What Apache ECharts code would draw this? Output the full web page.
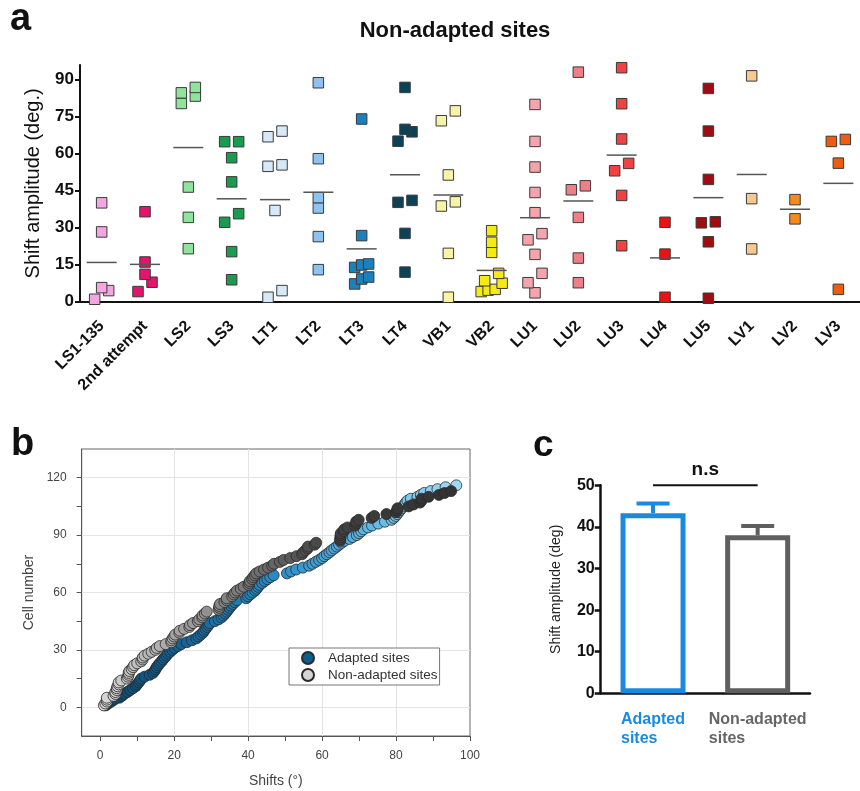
<!DOCTYPE html>
<html><head><meta charset="utf-8">
<script src="https://cdn.jsdelivr.net/npm/echarts@6/dist/echarts.min.js"></script>
<style>html,body{margin:0;padding:0;background:#fff}#c{width:860px;height:791px}</style>
</head><body><div id="c"></div>
<script>
// ---------- Panel a: non-adapted sites ----------
const categories = ['LS1-135','2nd attempt','LS2','LS3','LT1','LT2','LT3','LT4','VB1','VB2','LU1','LU2','LU3','LU4','LU5','LV1','LV2','LV3'];
const ls1_135 = [40.1, 28.3, 5.7, 4.5, 1.0];
const secondAttempt = [36.5, 16.1, 11.1, 7.9, 4.1];
const ls2 = [86.9, 84.7, 83.4, 80.4, 46.5, 34.2, 21.5];
const ls3 = [64.9, 64.9, 58.4, 48.6, 35.7, 32.2, 20.3, 8.9];
const lt1 = [69.2, 66.9, 55.5, 54.9, 37.0, 4.5, 1.8];
const lt2 = [88.8, 58.0, 42.2, 38.0, 26.4, 13.0];
const lt3 = [74.1, 26.8, 15.3, 14.9, 13.9, 10.0, 9.2, 7.2];
const lt4 = [86.9, 69.9, 68.9, 65.1, 41.1, 40.3, 27.7, 12.0];
const vb1 = [77.4, 73.4, 51.4, 40.5, 38.8, 19.6, 1.8];
const vb2 = [28.8, 24.1, 20.0, 11.5, 8.5, 7.5, 5.0, 4.7, 4.1];
const lu1 = [80.0, 65.0, 54.6, 44.3, 36.1, 27.6, 25.1, 19.2, 11.5, 7.7, 3.6];
const lu2 = [93.1, 47.0, 45.4, 34.2, 17.7, 7.7];
const lu3 = [94.9, 80.3, 66.0, 56.1, 53.1, 43.1, 22.7];
const lu4 = [32.2, 19.3, 1.8];
const lu5 = [86.5, 69.2, 49.6, 32.4, 32.0, 24.3, 1.4];
const lv1 = [91.6, 41.8, 21.4];
const lv2 = [41.4, 33.6];
const lv3 = [65.8, 65.0, 56.2, 5.0];
const siteValues = [ls1_135, secondAttempt, ls2, ls3, lt1, lt2, lt3, lt4, vb1, vb2, lu1, lu2, lu3, lu4, lu5, lv1, lv2, lv3];
const aTicks = [0, 15, 30, 45, 60, 75, 90];

// ---------- Panel b: cumulative shifts ----------
const adaptedShifts = [1.5,2.2,3.0,3.8,5.2,5.9,6.5,7.4,8.1,8.9,
 9.6,10.0,10.4,10.8,11.1,12.0,13.4,14.3,14.7,15.0,
 15.3,15.7,16.1,16.6,17.0,17.4,17.9,18.3,18.9,19.5,
 20.1,21.0,21.9,23.4,24.8,26.0,26.6,27.2,27.8,28.1,
 28.5,28.9,29.3,29.6,31.0,32.0,32.8,33.3,33.8,34.2,
 34.6,35.0,35.4,35.9,36.4,37.0,39.5,40.0,40.6,41.2,
 41.9,42.3,42.7,43.1,43.8,44.5,45.2,46.0,46.9,50.5,
 51.6,53.0,54.8,56.5,57.4,58.3,59.2,60.0,60.6,61.3,
 62.0,62.6,63.3,64.0,64.6,65.3,66.0,67.4,68.3,69.4,
 70.0,70.6,71.2,72.4,73.5,75.2,77.0,78.8,79.4,79.9,
 80.3,80.7,81.1,81.5,81.9,82.3,82.7,83.1,84.0,85.8,
 86.7,87.6,89.4,91.2,93.4,96.3];
const bXTicks = [0,10,20,30,40,50,60,70,80,90,100];
const bXLabels = [0,20,40,60,80,100];
const bXGrid = [20,40,60,80];
const bYTicks = [0,15,30,45,60,75,90,105,120];
const bYLabels = [0,30,60,90,120];
const seriesNames = ['Adapted sites','Non-adapted sites'];

// ---------- Panel c: mean shift amplitude ----------
const barCategories = ['Adapted sites','Non-adapted sites'];
const barMeans = [43.3, 38.0];
const barSem = [2.3, 2.2];
const sigLevel = 50;
const sigText = 'n.s';

// ---------- styles ----------
const FONT = '"Liberation Sans", Arial, sans-serif';
const siteColors = ['#f3a7e2','#e5136c','#8fe39c','#1b9a52','#d5e9f8','#8ec3ef','#1b80bc','#0b4257',
  '#f8f3a6','#f5ea14','#f5a4ab','#ee7f86','#f04242','#ee1111','#a00c12','#f7c98f','#f78a1e','#ee5c12'];
const barColors = ['#1a8ae0','#5f5f5f'];

// beeswarm-like layout: values close together spread sideways
const aPoints = [];
siteValues.forEach((vals, ci) => {
  const sorted = vals.slice().sort((a, b) => a - b);
  const rows = []; let cur = [];
  sorted.forEach(v => { if (cur.length && v - cur[0] >= 4.1) { rows.push(cur); cur = []; } cur.push(v); });
  if (cur.length) rows.push(cur);
  rows.forEach(row => {
    const k = row.length;
    const hw = k === 1 ? 0 : (k <= 3 ? 7 : 3.5 * (k - 1));
    row.forEach((v, j) => {
      const off = k === 1 ? 0 : -hw + 2 * hw * j / (k - 1);
      aPoints.push({ value: [ci, v], symbolOffset: [off, 0], itemStyle: { color: siteColors[ci] } });
    });
  });
});
const aMeans = siteValues.map((vals, i) => [i, vals.reduce((s, v) => s + v, 0) / vals.length]);

const nonAdaptedShifts = siteValues.flat().sort((a, b) => a - b);
const adaptedData = adaptedShifts.map((s, i) => [s, i + 1]);
const nonAdaptedData = nonAdaptedShifts.map((s, i) => [s, i + 1]);

const chart = echarts.init(document.getElementById('c'), null, { renderer: 'canvas' });
const option = {
  backgroundColor: '#fff',
  animation: false,
  textStyle: { fontFamily: FONT },
  graphic: [
    { type: 'text', x: 10, y: 20, style: { text: 'a', font: 'bold 38px ' + FONT, fill: '#111', verticalAlign: 'middle' } },
    { type: 'text', x: 455, y: 31, style: { text: 'Non-adapted sites', font: 'bold 22px ' + FONT, fill: '#111', align: 'center', verticalAlign: 'middle' } },
    { type: 'text', x: 11, y: 445, style: { text: 'b', font: 'bold 38px ' + FONT, fill: '#111', verticalAlign: 'middle' } },
    { type: 'text', x: 533, y: 446, style: { text: 'c', font: 'bold 37px ' + FONT, fill: '#111', verticalAlign: 'middle' } }
  ],
  grid: [
    { left: 80, top: 65, width: 784, height: 236.7 },
    { left: 81.7, top: 449, width: 388.3, height: 287, show: true, borderColor: '#666', borderWidth: 1, backgroundColor: 'transparent' },
    { left: 600.7, top: 485.3, width: 209.3, height: 208 }
  ],
  xAxis: [
    { type: 'category', gridIndex: 0, data: categories, boundaryGap: true,
      axisLine: { lineStyle: { color: '#111', width: 2 } },
      axisTick: { alignWithLabel: true, length: 5, lineStyle: { color: '#111', width: 2 } },
      axisLabel: { interval: 0, rotate: 45, margin: 22, color: '#111', fontSize: 16, fontWeight: 'bold' } },
    { type: 'value', gridIndex: 1, min: -5, max: 100,
      axisLine: { onZero: false, lineStyle: { color: '#555' } },
      axisTick: { customValues: bXTicks, length: 5, lineStyle: { color: '#555' } },
      axisLabel: { customValues: bXLabels, color: '#444', fontSize: 12, margin: 14 },
      splitLine: { show: false },
      name: 'Shifts (°)', nameLocation: 'middle', nameGap: 38, nameTextStyle: { color: '#444', fontSize: 14 } },
    { type: 'value', gridIndex: 1, min: -5, max: 100,
      axisLine: { show: false, onZero: false }, axisLabel: { show: false },
      axisTick: { show: false, customValues: bXGrid },
      splitLine: { show: true, lineStyle: { color: '#e4e4e4', width: 1 } } },
    { type: 'category', gridIndex: 2, data: barCategories,
      axisLine: { lineStyle: { color: '#111', width: 2.5 } },
      axisTick: { alignWithLabel: true, length: 6, lineStyle: { color: '#111', width: 2.5 } },
      axisLabel: { interval: 0, hideOverlap: false, margin: 17, align: 'center',
        formatter: (v, i) => i === 0 ? '{ad|Adapted}\n{ad|sites}' : '{na|Non-adapted}\n{na|sites}',
        rich: {
          ad: { color: barColors[0], fontWeight: 'bold', fontSize: 16, align: 'left', lineHeight: 19, fontFamily: FONT },
          na: { color: '#666', fontWeight: 'bold', fontSize: 16, align: 'left', lineHeight: 19, fontFamily: FONT }
        } } }
  ],
  yAxis: [
    { type: 'value', gridIndex: 0, min: 0, max: 96,
      axisLine: { show: true, lineStyle: { color: '#111', width: 2 } },
      axisTick: { show: true, customValues: aTicks, length: 5, lineStyle: { color: '#111', width: 2 } },
      axisLabel: { customValues: aTicks, color: '#111', fontSize: 17, fontWeight: 'bold', margin: 6 },
      splitLine: { show: false },
      name: 'Shift amplitude (deg.)', nameLocation: 'middle', nameGap: 37, nameTextStyle: { color: '#111', fontSize: 20 } },
    { type: 'value', gridIndex: 1, min: -15, max: 135,
      axisLine: { show: true, onZero: false, lineStyle: { color: '#555' } },
      axisTick: { show: true, customValues: bYTicks, length: 5, lineStyle: { color: '#555' } },
      axisLabel: { customValues: bYLabels, color: '#444', fontSize: 12, margin: 15 },
      splitLine: { show: false },
      name: 'Cell number', nameLocation: 'middle', nameGap: 46, nameTextStyle: { color: '#444', fontSize: 14 } },
    { type: 'value', gridIndex: 1, min: -15, max: 135,
      axisLine: { show: false, onZero: false }, axisLabel: { show: false },
      axisTick: { show: false, customValues: bYLabels },
      splitLine: { show: true, lineStyle: { color: '#e4e4e4', width: 1 } } },
    { type: 'value', gridIndex: 2, min: 0, max: 50, interval: 10,
      axisLine: { show: true, lineStyle: { color: '#111', width: 2.5 } },
      axisTick: { show: true, length: 6, lineStyle: { color: '#111', width: 2.5 } },
      axisLabel: { color: '#111', fontSize: 16, fontWeight: 'bold', margin: 6 },
      splitLine: { show: false },
      name: 'Shift amplitude (deg)', nameLocation: 'middle', nameGap: 38, nameTextStyle: { color: '#222', fontSize: 14 } }
  ],
  legend: {
    data: seriesNames, left: 289, top: 648, orient: 'vertical', selectedMode: false,
    backgroundColor: '#fff', borderColor: '#777', borderWidth: 1, padding: [3, 2, 3, 12], itemGap: 3,
    itemWidth: 30, itemHeight: 12, icon: 'circle',
    textStyle: { color: '#333', fontSize: 13.5, fontFamily: FONT }
  },
  visualMap: [
    { type: 'continuous', show: false, seriesIndex: 2, dimension: 0, min: 0, max: 96,
      inRange: { color: ['#0a4468', '#14659a', '#2a8dc8', '#5cb5e3', '#9fdaf6'] } },
    { type: 'continuous', show: false, seriesIndex: 3, dimension: 0, min: 0, max: 96,
      inRange: { color: ['#d8d8d8', '#a8a8a8', '#7a7a7a', '#4a4a4a', '#383838', '#333333'] } }
  ],
  series: [
    { type: 'scatter', xAxisIndex: 0, yAxisIndex: 0, symbol: 'rect', symbolSize: 10.5, z: 3,
      itemStyle: { opacity: 1, borderColor: '#3a3a3a', borderWidth: 1 }, data: aPoints },
    { type: 'custom', xAxisIndex: 0, yAxisIndex: 0, z: 4, data: aMeans,
      renderItem: (params, api) => {
        const p = api.coord([api.value(0), api.value(1)]);
        return { type: 'line', shape: { x1: p[0] - 15, y1: p[1], x2: p[0] + 15, y2: p[1] },
          style: { stroke: '#555', lineWidth: 1.5 } };
      } },
    { type: 'scatter', name: seriesNames[0], xAxisIndex: 1, yAxisIndex: 1, symbol: 'circle', symbolSize: 11, z: 3,
      itemStyle: { opacity: 1, color: '#0e5f8a', borderColor: '#2a2a2a', borderWidth: 0.8 }, data: adaptedData },
    { type: 'scatter', name: seriesNames[1], xAxisIndex: 1, yAxisIndex: 1, symbol: 'circle', symbolSize: 11, z: 4,
      itemStyle: { opacity: 1, color: '#d4d4d4', borderColor: '#2a2a2a', borderWidth: 0.8 }, data: nonAdaptedData },
    { type: 'bar', xAxisIndex: 3, yAxisIndex: 3, barWidth: 65, z: 3,
      data: barMeans.map((m, i) => ({ value: m, itemStyle: { color: '#fff', borderColor: barColors[i], borderWidth: 5 } })) },
    { type: 'custom', xAxisIndex: 3, yAxisIndex: 3, z: 4,
      data: barMeans.map((m, i) => [i, m, barSem[i]]),
      renderItem: (params, api) => {
        const i = api.value(0);
        const p0 = api.coord([i, api.value(1)]);
        const p1 = api.coord([i, api.value(1) + api.value(2)]);
        const col = barColors[params.dataIndex];
        return { type: 'group', children: [
          { type: 'line', shape: { x1: p0[0], y1: p0[1], x2: p1[0], y2: p1[1] }, style: { stroke: col, lineWidth: 4 } },
          { type: 'line', shape: { x1: p1[0] - 16.5, y1: p1[1], x2: p1[0] + 16.5, y2: p1[1] }, style: { stroke: col, lineWidth: 4 } }
        ] };
      } },
    { type: 'custom', xAxisIndex: 3, yAxisIndex: 3, z: 4,
      data: [[0, 1, sigLevel]],
      renderItem: (params, api) => {
        const a = api.coord([api.value(0), api.value(2)]);
        const b = api.coord([api.value(1), api.value(2)]);
        return { type: 'group', children: [
          { type: 'line', shape: { x1: a[0], y1: a[1], x2: b[0], y2: b[1] }, style: { stroke: '#111', lineWidth: 2 } },
          { type: 'text', x: (a[0] + b[0]) / 2, y: a[1] - 6,
            style: { text: sigText, font: 'bold 19px ' + FONT, fill: '#111', align: 'center', verticalAlign: 'bottom' } }
        ] };
      } }
  ]
};
chart.setOption(option);
</script>
</body></html>
